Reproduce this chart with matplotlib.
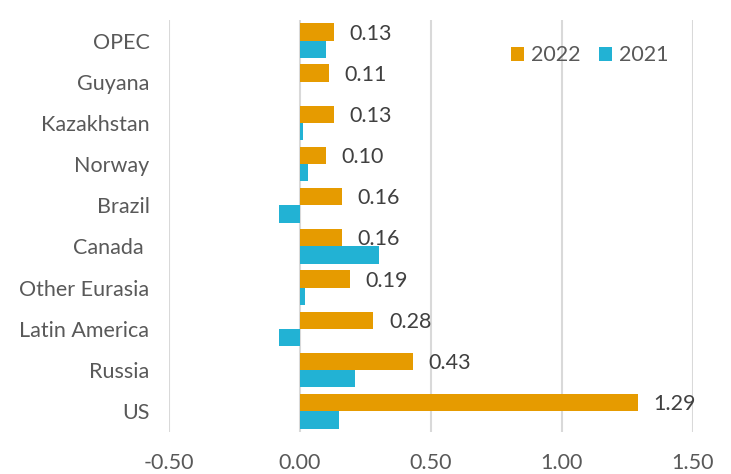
import numpy as np
import matplotlib.pyplot as plt

regions = ["OPEC", "Guyana", "Kazakhstan", "Norway", "Brazil", "Canada ",
           "Other Eurasia", "Latin America", "Russia", "US"]
growth_2022 = [0.13, 0.11, 0.13, 0.10, 0.16, 0.16, 0.19, 0.28, 0.43, 1.29]
growth_2021 = [0.10, 0.00, 0.01, 0.03, -0.08, 0.30, 0.02, -0.08, 0.21, 0.15]
xticks = [-0.5, 0.0, 0.5, 1.0, 1.5]

plt.rcParams['font.family'] = ['Lato', 'DejaVu Sans']
fs = 15.5

fig = plt.figure(figsize=(7.31, 4.74), dpi=100)
ax = fig.add_axes([0.231, 0.089, 0.717, 0.869])

y = np.arange(len(regions))
h = 0.42
orange = '#E69B00'
cyan = '#22B2D4'

ax.barh(y - h / 2, growth_2022, height=h, color=orange, label='2022', zorder=3)
ax.barh(y + h / 2, growth_2021, height=h, color=cyan, label='2021', zorder=3)

for yi, v in zip(y, growth_2022):
    ax.text(v + 0.06, yi - h / 2 + 0.04, f"{v:.2f}", ha='left', va='center',
            fontsize=fs, color='#404040')

ax.set_xlim(-0.5, 1.5)
ax.set_ylim(len(regions) - 0.5, -0.5)
ax.set_xticks(xticks)
ax.set_xticklabels([f"{t:.2f}" for t in xticks])
ax.set_yticks(y)
ax.set_yticklabels(regions)
ax.tick_params(axis='both', length=0, labelsize=fs, colors='#595959')
ax.tick_params(axis='x', pad=15)
ax.tick_params(axis='y', pad=14)

ax.grid(axis='x', color='#D9D9D9', linewidth=1.5, zorder=0)
for s in ax.spines.values():
    s.set_visible(False)

leg = ax.legend(loc='upper right', bbox_to_anchor=(0.99, 0.985), ncol=2,
                frameon=False, fontsize=fs, handlelength=0.6, handleheight=0.6,
                handletextpad=0.3, columnspacing=0.9)
for t in leg.get_texts():
    t.set_color('#595959')

fig.savefig('out.png', dpi=100)
